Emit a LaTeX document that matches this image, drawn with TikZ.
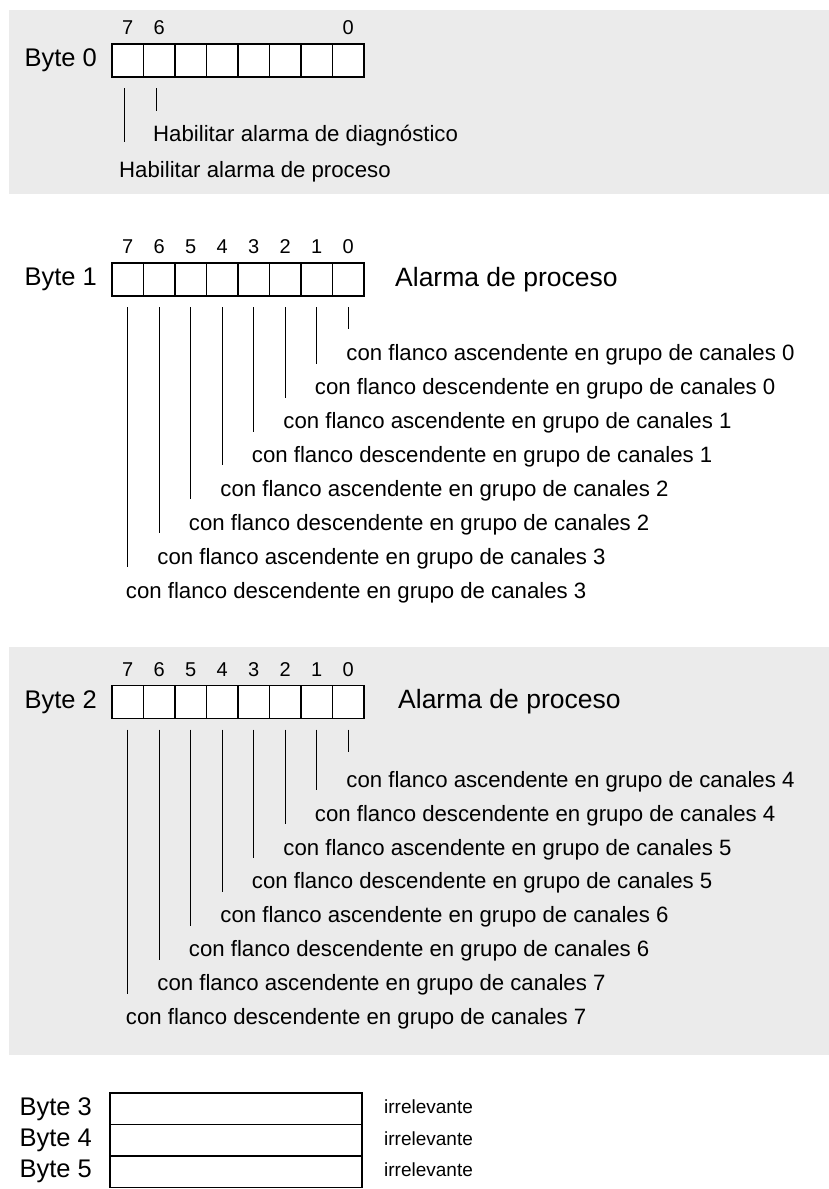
\documentclass[tikz,border=0pt]{standalone}
\usepackage{fontspec}
\setmainfont{Liberation Sans}
\usetikzlibrary{positioning}
\definecolor{panelgray}{RGB}{235,235,235}

\begin{document}
\begin{tikzpicture}[x=1pt, y=-1pt,
  cell/.style={draw,line width=1.2pt,minimum width=31.5pt,minimum height=33pt,inner sep=0pt,outer sep=0pt,fill=white},
  rowbox/.style={draw,line width=1.2pt,minimum width=252pt,minimum height=31.5pt,inner sep=0pt,outer sep=0pt,fill=white},
  bytelbl/.style={font=\fontsize{25.5}{30}\selectfont,inner sep=0pt},
  alarm/.style={font=\fontsize{26.5}{30}\selectfont,inner sep=0pt},
  bitnum/.style={font=\fontsize{20}{24}\selectfont,inner sep=0pt},
  desc/.style={font=\fontsize{22.2}{26}\selectfont,inner sep=0pt,anchor=west},
  irr/.style={font=\fontsize{19}{22}\selectfont,inner sep=0pt},
  lead/.style={line width=1pt}]
  \useasboundingbox (0,0) rectangle (829,1189);
  % grey panels behind byte 0 and byte 2
  \fill[panelgray] (9,10) rectangle (829,194);
  \fill[panelgray] (9,647) rectangle (829,1055);

  % Byte 0
  \foreach \i in {0,...,7}
    \node[cell] (b0-\i) at ({127.75+31.5*(7-\i)},60.5) {};
  \node[bytelbl, left=15pt of b0-7] (lbl0) {Byte 0};
  \foreach \i in {7,6,0}
    \node[bitnum, above=9pt of b0-\i] (n0-\i) {\i};
  \node[desc] (t0-6) at (153,136) {Habilitar alarma de diagnóstico};
  \node[desc] (t0-7) at (119,172) {Habilitar alarma de proceso};
  \draw[lead] ([xshift=-3pt,yshift=-11pt]b0-6.south) -- ([xshift=-3pt,yshift=-34pt]b0-6.south);
  \draw[lead] ([xshift=-3pt,yshift=-11pt]b0-7.south) -- ([xshift=-3pt]b0-7.south |- t0-6.base);

  % Byte 1
  \foreach \i in {0,...,7}{
    \node[cell] (b1-\i) at ({127.75+31.5*(7-\i)},279.5) {};
    \node[bitnum, above=9pt of b1-\i] (n1-\i) {\i};
  }
  \node[bytelbl, left=15pt of b1-7] (lbl1) {Byte 1};
  \node[alarm, right=31pt of b1-0] (al1) {Alarma de proceso};
  \foreach \j/\edge/\grp in {0/ascendente/0,1/descendente/0,2/ascendente/1,3/descendente/1,
                            4/ascendente/2,5/descendente/2,6/ascendente/3,7/descendente/3}
    \node[desc] (t1-\j) at ({125.75+31.5*(7-\j)},{355+33.9*\j}) {con flanco \edge\ en grupo de canales \grp};
  \draw[lead] ([yshift=-11pt]b1-0.south) -- ([yshift=-33pt]b1-0.south);
  \foreach \j [evaluate=\j as \k using int(\j-1)] in {1,...,7}
    \draw[lead, shorten >=-3pt] ([yshift=-11pt]b1-\j.south) -- (b1-\j.south |- t1-\k.base);

  % Byte 2
  \foreach \i in {0,...,7}{
    \node[cell] (b2-\i) at ({127.75+31.5*(7-\i)},702) {};
    \node[bitnum, above=9pt of b2-\i] (n2-\i) {\i};
  }
  \node[bytelbl, left=15pt of b2-7] (lbl2) {Byte 2};
  \node[alarm, right=34pt of b2-0] (al2) {Alarma de proceso};
  \foreach \j/\edge/\grp in {0/ascendente/4,1/descendente/4,2/ascendente/5,3/descendente/5,
                            4/ascendente/6,5/descendente/6,6/ascendente/7,7/descendente/7}
    \node[desc] (t2-\j) at ({125.75+31.5*(7-\j)},{781.5+33.9*\j}) {con flanco \edge\ en grupo de canales \grp};
  \draw[lead] ([yshift=-11pt]b2-0.south) -- ([yshift=-33pt]b2-0.south);
  \foreach \j [evaluate=\j as \k using int(\j-1)] in {1,...,7}
    \draw[lead, shorten >=-3pt] ([yshift=-11pt]b2-\j.south) -- (b2-\j.south |- t2-\k.base);

  % Bytes 3 to 5
  \node[rowbox] (r3) at (236,1108.75) {};
  \node[rowbox, below=0pt of r3] (r4) {};
  \node[rowbox, below=0pt of r4] (r5) {};
  \foreach \r in {3,4,5}{
    \node[bytelbl, left=18pt of r\r] (lbl\r) {Byte \r};
    \node[irr, right=22pt of r\r, yshift=2pt] (irr\r) {irrelevante};
  }
\end{tikzpicture}
\end{document}
